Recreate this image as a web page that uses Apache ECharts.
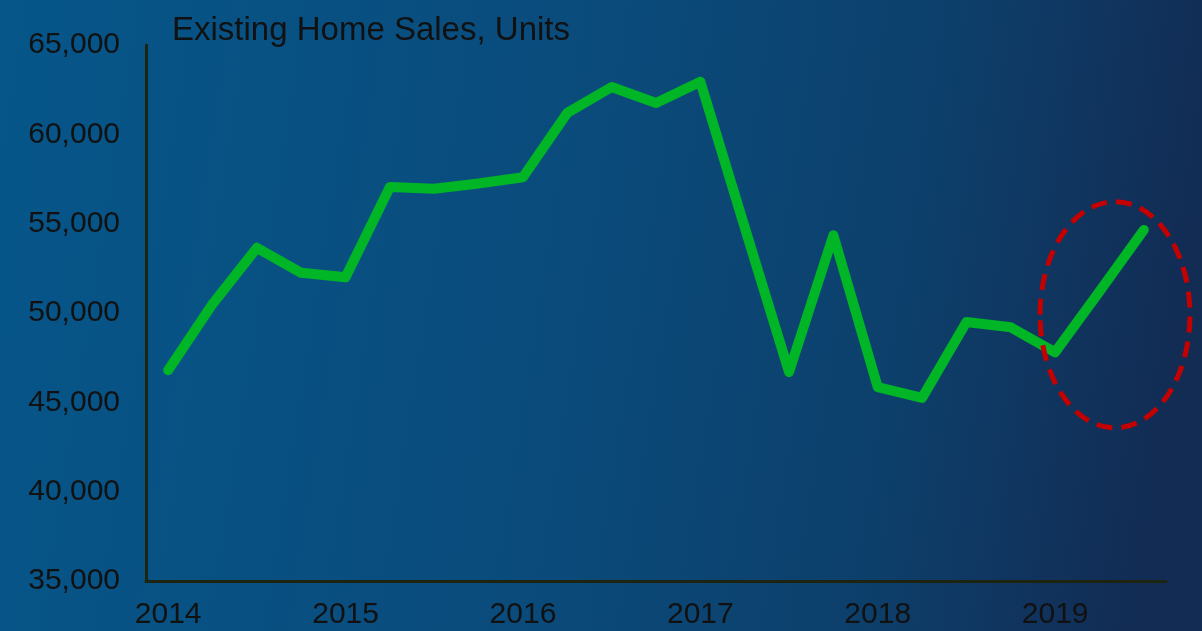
<!DOCTYPE html>
<html>
<head>
<meta charset="utf-8">
<title>Existing Home Sales</title>
<script src="https://cdn.jsdelivr.net/npm/echarts@6/dist/echarts.min.js"></script>
<style>
    html, body { margin: 0; padding: 0; }
    #chart { width: 1202px; height: 631px; }
</style>
</head>
<body>
<div id="chart"></div>
<script>
    // quarterly, 2014 Q1 .. 2019 Q3
    var quarters = ['2014 Q1', '2014 Q2', '2014 Q3', '2014 Q4',
        '2015 Q1', '2015 Q2', '2015 Q3', '2015 Q4',
        '2016 Q1', '2016 Q2', '2016 Q3', '2016 Q4',
        '2017 Q1', '2017 Q2', '2017 Q3', '2017 Q4',
        '2018 Q1', '2018 Q2', '2018 Q3', '2018 Q4',
        '2019 Q1', '2019 Q2', '2019 Q3']
    var sales = [46800, 50500, 53650, 52250, 52000,
        57050, 56950, 57250, 57600,
        61200, 62650, 61750, 62950,
        54800, 46700, 54350, 45850,
        45250, 49500, 49200, 47800,
        51200, 54650]
    var yTicks = [35000, 40000, 45000, 50000, 55000, 60000, 65000]
    // highlighted region (centre in data units: quarter index, value)
    var circleCenter = [21.35, 49900]
    var circleRadius = [1.69, 6330]

    var myChart = echarts.init(document.getElementById('chart'))
    var font = 'Liberation Sans, Arial, sans-serif'

    myChart.setOption({
        backgroundColor: {
            type: 'linear', x: 0, y: 0, x2: 1, y2: 0.3,
            colorStops: [
                {offset: 0, color: '#06568a'},
                {offset: 0.5, color: '#0a4b7b'},
                {offset: 0.78, color: '#0d3f6b'},
                {offset: 1, color: '#122c54'}
            ]
        },
        title: {
            text: 'Existing Home Sales, Units',
            left: 167,
            top: 9,
            textStyle: {color: '#111', fontSize: 33, fontWeight: 'normal', fontFamily: font}
        },
        grid: {left: 146, right: 36, top: 45, bottom: 50},
        xAxis: {
            type: 'category',
            data: quarters,
            boundaryGap: true,
            axisLine: {lineStyle: {color: '#1e2412', width: 3}},
            axisTick: {show: false},
            axisLabel: {
                interval: 3,
                margin: 19,
                color: '#111',
                fontSize: 30,
                fontFamily: font,
                formatter: function (v) { return v.slice(0, 4) }
            }
        },
        yAxis: {
            type: 'value',
            min: yTicks[0],
            max: yTicks[yTicks.length - 1],
            interval: 5000,
            splitLine: {show: false},
            axisLine: {show: true, lineStyle: {color: '#1e2412', width: 3}},
            axisTick: {show: false},
            axisLabel: {
                margin: 26,
                color: '#111',
                fontSize: 30,
                fontFamily: font,
                formatter: function (v) { return v.toLocaleString('en-US') }
            }
        },
        series: [
            {
                name: 'Existing Home Sales',
                type: 'line',
                data: sales,
                showSymbol: false,
                lineStyle: {color: '#00b526', width: 10, cap: 'round', join: 'round'}
            }
        ]
    })

    // dashed ellipse around the last quarters (category axis only maps whole indexes)
    var i0 = Math.floor(circleCenter[0])
    var p0 = myChart.convertToPixel({gridIndex: 0}, [i0, circleCenter[1]])
    var p1 = myChart.convertToPixel({gridIndex: 0}, [i0 + 1, circleCenter[1] + circleRadius[1]])
    var step = p1[0] - p0[0]
    var cx = p0[0] + (circleCenter[0] - i0) * step
    myChart.setOption({
        graphic: [{
            type: 'ellipse',
            shape: {cx: cx, cy: p0[1], rx: circleRadius[0] * step, ry: Math.abs(p0[1] - p1[1])},
            style: {fill: 'none', stroke: '#c40000', lineWidth: 5, lineDash: [16, 9]},
            z: 10
        }]
    })
</script>
</body>
</html>
